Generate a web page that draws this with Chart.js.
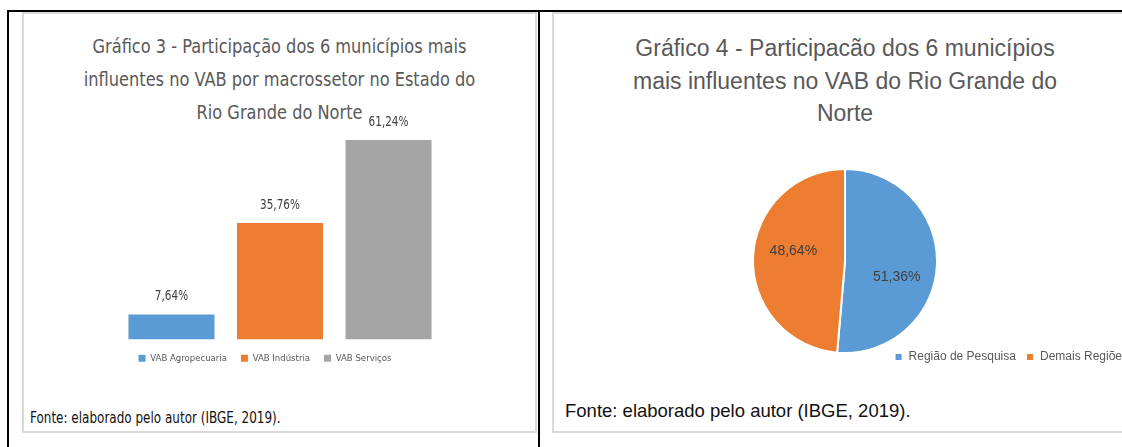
<!DOCTYPE html>
<html lang="pt-BR">
<head>
<meta charset="utf-8">
<script src="https://cdn.jsdelivr.net/npm/chart.js@4.4.1/dist/chart.umd.min.js"></script>
<style>
  body { margin: 0; width: 1122px; height: 447px; overflow: hidden; background: #fff; position: relative; }
  .linha { position: absolute; background: #000; }
  .painel { position: absolute; box-sizing: border-box; border: 2px solid #d9d9d9; background: #fff; }
  .titulo { position: absolute; text-align: center; color: #595959; white-space: nowrap; }
  .fonte { position: absolute; color: #111; white-space: nowrap; }
  .estreita { font-family: "DejaVu Sans Condensed", "Liberation Sans", sans-serif; }
  .normal { font-family: "Liberation Sans", Arial, sans-serif; }
  canvas { position: absolute; }
</style>
</head>
<body>
<div class="painel" style="left:22px; top:12px; width:515px; height:421px;"></div>
<div class="painel" style="left:552px; top:12px; width:620px; height:421px;"></div>
<div class="linha" style="left:7px; top:10px; width:1115px; height:2px;"></div>
<div class="linha" style="left:7px; top:10px; width:2px; height:437px;"></div>
<div class="linha" style="left:538px; top:10px; width:2px; height:437px;"></div>

<div class="titulo estreita" style="left:22px; top:30px; width:515px; font-size:20px; line-height:33px; transform:scaleX(0.9);">
  Gráfico 3 - Participação dos 6 municípios mais<br>influentes no VAB por macrossetor no Estado do<br>Rio Grande do Norte
</div>
<div class="fonte estreita" style="left:30px; top:408px; font-size:15px; line-height:20px; transform:scaleX(0.89); transform-origin:left center;">Fonte: elaborado pelo autor (IBGE, 2019).</div>

<div class="titulo normal" style="left:552px; top:32px; width:586px; font-size:23px; line-height:32.5px;">
  Gráfico 4 - Participacão dos 6 municípios<br>mais influentes no VAB do Rio Grande do<br>Norte
</div>
<div class="fonte normal" style="left:565px; top:401px; font-size:18.5px; line-height:20px;">Fonte: elaborado pelo autor (IBGE, 2019).</div>

<canvas id="grafico3" width="515" height="273" style="left:22px; top:100px;"></canvas>
<canvas id="grafico4" width="586" height="223" style="left:552px; top:150px;"></canvas>

<script>
var setores = ['VAB Agropecuaria', 'VAB Indústria', 'VAB Serviços'];
var participacaoSetor = [7.64, 35.76, 61.24];
var coresSetor = ['#5B9BD5', '#ED7D31', '#A5A5A5'];

var regioes = ['Região de Pesquisa', 'Demais Regiões'];
var participacaoRegiao = [51.36, 48.64];
var coresRegiao = ['#5B9BD5', '#ED7D31'];

var fonteEstreita = '"DejaVu Sans Condensed", "Liberation Sans", sans-serif';
var fonteNormal = '"Liberation Sans", Arial, sans-serif';

function pct(v) {
  return v.toFixed(2).replace('.', ',') + '%';
}

// rotulo acima de cada barra (texto comprimido na horizontal)
var rotulosBarras = {
  id: 'rotulosBarras',
  afterDatasetsDraw: function (chart) {
    var ctx = chart.ctx;
    chart.data.datasets.forEach(function (ds, i) {
      var barra = chart.getDatasetMeta(i).data[0];
      ctx.save();
      ctx.font = '14px ' + fonteEstreita;
      ctx.fillStyle = '#404040';
      ctx.textAlign = 'center';
      ctx.textBaseline = 'middle';
      ctx.translate(barra.x, barra.y - 18);
      ctx.scale(0.83, 1);
      ctx.fillText(pct(ds.data[0]), 0, 0);
      ctx.restore();
    });
  }
};

// rotulo dentro de cada fatia
var rotulosFatias = {
  id: 'rotulosFatias',
  afterDatasetsDraw: function (chart) {
    var ctx = chart.ctx;
    var valores = chart.data.datasets[0].data;
    ctx.save();
    ctx.font = '14px ' + fonteNormal;
    ctx.fillStyle = '#404040';
    ctx.textAlign = 'center';
    ctx.textBaseline = 'middle';
    chart.getDatasetMeta(0).data.forEach(function (arco, i) {
      var a = (arco.startAngle + arco.endAngle) / 2 + 0.21;
      var r = arco.outerRadius * 0.58;
      ctx.fillText(pct(valores[i]), arco.x + Math.cos(a) * r, arco.y + Math.sin(a) * r + 3);
    });
    ctx.restore();
  }
};

new Chart(document.getElementById('grafico3'), {
  type: 'bar',
  data: {
    labels: [''],
    datasets: setores.map(function (s, i) {
      return {
        label: s,
        data: [participacaoSetor[i]],
        backgroundColor: coresSetor[i],
        borderWidth: 0,
        categoryPercentage: 0.714,
        barPercentage: 0.793
      };
    })
  },
  options: {
    responsive: false,
    animation: false,
    events: [],
    layout: { padding: { top: 11.5, right: 29, left: 0, bottom: 0 } },
    scales: {
      x: { display: false },
      y: {
        min: 0,
        max: 70,
        grid: { display: false },
        border: { display: false },
        ticks: { display: false },
        afterFit: function (scale) { scale.width = 30; }
      }
    },
    plugins: {
      tooltip: { enabled: false },
      legend: {
        position: 'bottom',
        labels: {
          boxWidth: 7,
          boxHeight: 7,
          padding: 14,
          color: '#595959',
          font: { size: 9.5, family: fonteEstreita }
        }
      }
    }
  },
  plugins: [rotulosBarras]
});

new Chart(document.getElementById('grafico4'), {
  type: 'pie',
  data: {
    labels: regioes,
    datasets: [{
      data: participacaoRegiao,
      backgroundColor: coresRegiao,
      borderColor: '#ffffff',
      borderWidth: 2,
      radius: 92,
      clip: false
    }]
  },
  options: {
    responsive: false,
    animation: false,
    events: [],
    layout: { padding: { top: 31, right: 0, left: 0, bottom: 0 } },
    plugins: {
      tooltip: { enabled: false },
      legend: {
        position: 'bottom',
        align: 'end',
        labels: {
          boxWidth: 8,
          boxHeight: 8,
          padding: 10,
          color: '#595959',
          font: { size: 12, family: fonteNormal }
        }
      }
    }
  },
  plugins: [rotulosFatias]
});
</script>
</body>
</html>
